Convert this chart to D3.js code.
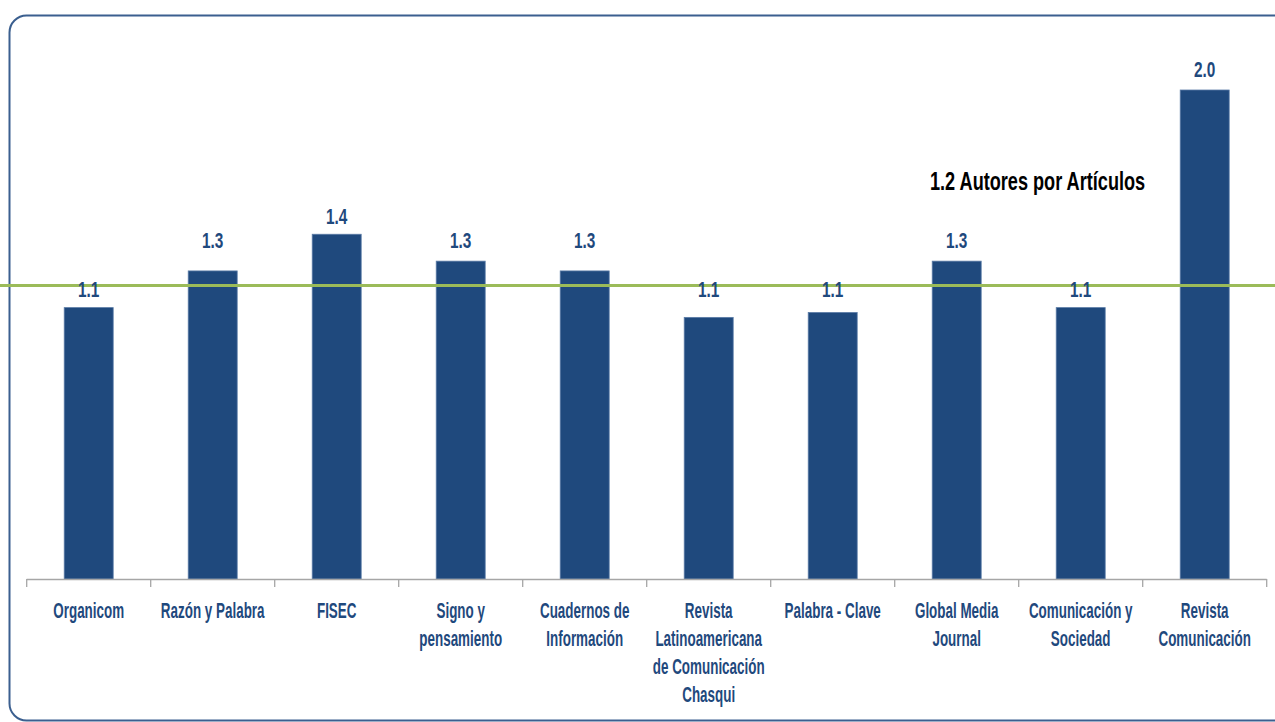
<!DOCTYPE html>
<html><head><meta charset="utf-8">
<script src="https://cdn.jsdelivr.net/npm/d3@7"></script>
<style>
html,body{margin:0;padding:0;background:#fff;overflow:hidden}
svg{display:block}
</style></head>
<body>
<svg id="chart" width="1275" height="722"></svg>
<script>
// ---- data ----
const categories = [
  "Organicom",
  "Razón y Palabra",
  "FISEC",
  "Signo y\npensamiento",
  "Cuadernos de\nInformación",
  "Revista\nLatinoamericana\nde Comunicación\nChasqui",
  "Palabra - Clave",
  "Global Media\nJournal",
  "Comunicación y\nSociedad",
  "Revista\nComunicación"
];
const values = [1.11, 1.26, 1.41, 1.30, 1.26, 1.07, 1.09, 1.30, 1.11, 2.0];
const valueLabels = ["1.1", "1.3", "1.4", "1.3", "1.3", "1.1", "1.1", "1.3", "1.1", "2.0"];
const averageValue = 1.2;
const averageLabel = "1.2 Autores por Artículos";

// ---- layout ----
const svg = d3.select("#chart");
const W = 1275, H = 722;
const blue = "#1F497D";
const narrow = "'Liberation Sans Narrow','Arial Narrow','Liberation Sans',Arial,sans-serif";

const x = d3.scaleBand().domain(categories).range([26.7, 1266.7]).padding(0);
const y = d3.scaleLinear().domain([0, 2.2]).range([579, 41.1]);
const barW = x.bandwidth() * 0.395;

// frame
svg.append("rect")
  .attr("x", 9.5).attr("y", 15.5).attr("width", 1310).attr("height", 705)
  .attr("rx", 17).attr("ry", 17)
  .attr("fill", "none").attr("stroke", "#3B5F8F").attr("stroke-width", 2);

// bars
svg.append("g").selectAll("rect").data(values).join("rect")
  .attr("x", (d, i) => x(categories[i]) + (x.bandwidth() - barW) / 2)
  .attr("y", d => y(d))
  .attr("width", barW)
  .attr("height", d => y(0) - y(d))
  .attr("fill", blue)
  .attr("stroke", "#5A7BA6").attr("stroke-width", 0.8);

// axis
const axisG = svg.append("g");
axisG.append("line")
  .attr("x1", x.range()[0]).attr("x2", x.range()[1])
  .attr("y1", y(0) + 0.5).attr("y2", y(0) + 0.5)
  .attr("stroke", "#A6A6A6").attr("stroke-width", 1.3);
const tickPos = categories.map(c => x(c)).concat([x.range()[1]]);
axisG.selectAll("line.tick").data(tickPos).join("line")
  .attr("class", "tick")
  .attr("x1", d => d).attr("x2", d => d)
  .attr("y1", y(0)).attr("y2", y(0) + 8)
  .attr("stroke", "#A6A6A6").attr("stroke-width", 1.3);

// category labels
const catG = svg.append("g");
categories.forEach((c, i) => {
  const cx = x(c) + x.bandwidth() / 2;
  c.split("\n").forEach((line, j) => {
    catG.append("text")
      .attr("transform", `translate(${cx},${618 + j * 28}) scale(0.61,1)`)
      .attr("text-anchor", "middle")
      .attr("font-family", narrow).attr("font-weight", "bold")
      .attr("font-size", 22).attr("fill", blue)
      .text(line);
  });
});

// average line
svg.append("line")
  .attr("x1", 0).attr("x2", W)
  .attr("y1", y(averageValue)).attr("y2", y(averageValue))
  .attr("stroke", "#9BBB59").attr("stroke-width", 3);

// value labels
svg.append("g").selectAll("text").data(valueLabels).join("text")
  .attr("transform", (d, i) => `translate(${x(categories[i]) + x.bandwidth() / 2},${y(+d) - 13}) scale(0.7,1)`)
  .attr("text-anchor", "middle")
  .attr("font-family", narrow).attr("font-weight", "bold")
  .attr("font-size", 22).attr("fill", blue)
  .text(d => d);

// average annotation
svg.append("text")
  .attr("transform", `translate(930,${y(averageValue) - 96}) scale(0.725,1)`)
  .attr("text-anchor", "start")
  .attr("font-family", narrow).attr("font-weight", "bold")
  .attr("font-size", 25).attr("fill", "#000")
  .text(averageLabel);
</script>
</body></html>
